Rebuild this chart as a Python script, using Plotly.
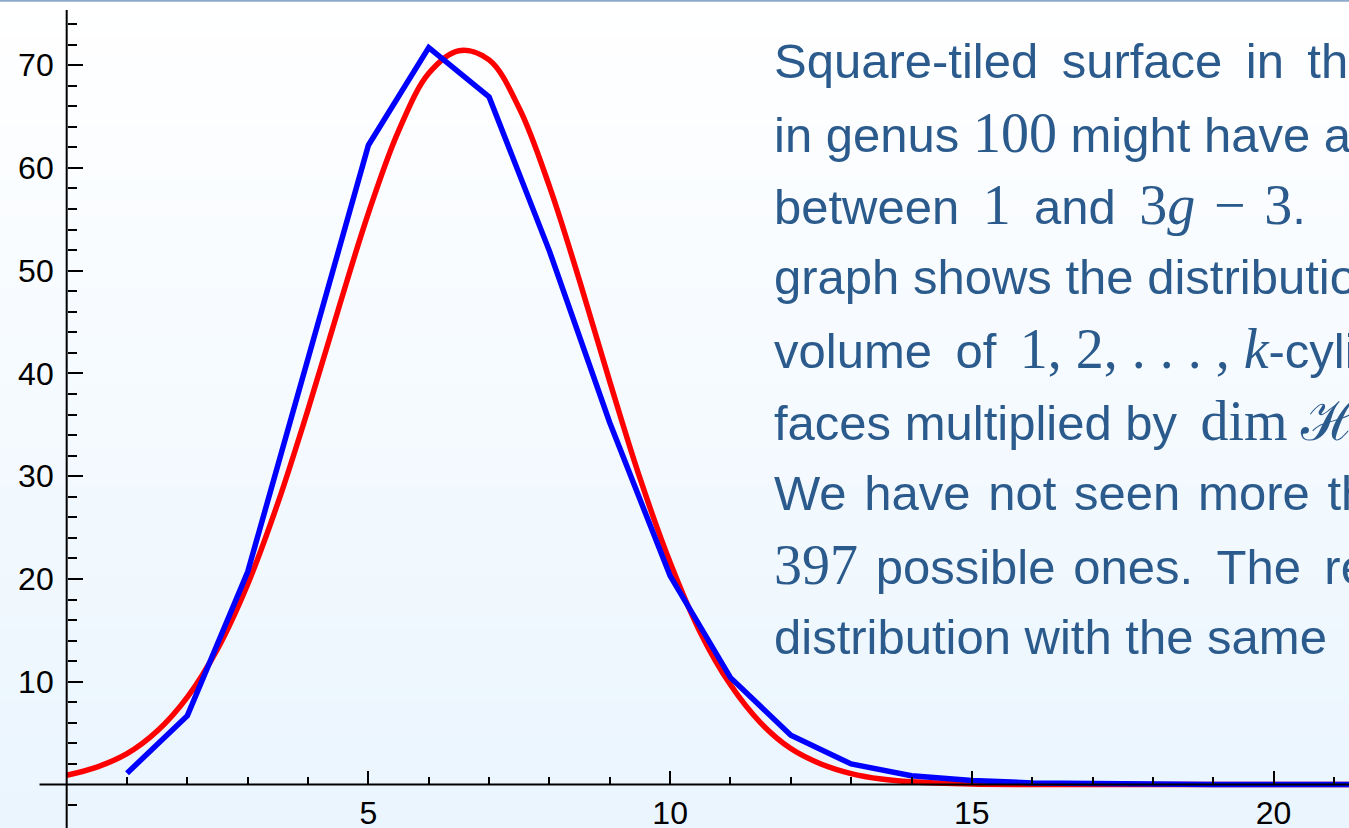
import plotly.graph_objects as go

# ---- data ----
k_values = list(range(1, 23))
volume_share = [1.1, 6.7, 20.7, 41.5, 62.2, 71.7, 66.9, 51.9, 35.2, 20.3, 10.4,
                4.8, 2.0, 0.85, 0.4, 0.15, 0.06, 0.02, 0.01, 0.0, 0.0, 0.0]

normal_x = [0, 0.5, 1, 1.5, 2, 2.5, 3, 3.5, 4, 4.5, 5, 5.5, 6, 6.5, 7, 7.5, 8, 8.5,
            9, 9.5, 10, 10.5, 11, 11.5, 12, 12.5, 13, 13.5, 14, 15, 16, 17, 18, 19, 20, 21, 22]
normal_y = [0.9, 1.7, 3.0, 5.2, 8.5, 13.2, 19.5, 27.4, 36.5, 46.2, 55.6, 63.6, 69.2, 71.4,
            70.5, 65.8, 58.2, 49.0, 39.2, 29.8, 21.6, 14.8, 9.7, 6.0, 3.5, 2.0, 1.06, 0.53,
            0.26, 0.05, 0.01, 0.0, 0.0, 0.0, 0.0, 0.0, 0.0]

x_major = [5, 10, 15, 20]
x_minor = [1, 2, 3, 4, 6, 7, 8, 9, 11, 12, 13, 14, 16, 17, 18, 19, 21]
y_major = [10, 20, 30, 40, 50, 60, 70]
y_minor = [-2, 2, 4, 6, 8, 12, 14, 16, 18, 22, 24, 26, 28, 32, 34, 36, 38, 42, 44, 46, 48,
           52, 54, 56, 58, 62, 64, 66, 68, 72, 74]

W, H = 1349, 828
X_RANGE = [-1.105, 21.25]
Y_RANGE = [-4.23, 76.33]

TXT = "#2b5a8c"
SERIF = "font-family:'Liberation Serif','DejaVu Serif',serif;font-size:56px"


def m(s, italic=False):
    if italic:
        return f"<span style=\"{SERIF}\"><i>{s}</i></span>"
    return f"<span style=\"{SERIF}\">{s}</span>"


sp = " \u2009"   # widened (justified) space
sp2 = " \u200a"

text_lines = [
    "Square-tiled" + sp + "surface" + sp + "in" + sp + "the" + sp + "principal",
    "in genus " + m("100") + " might have any",
    "between" + sp + m("1") + sp + "and" + sp + m("3") + m("g", True)
    + m(" \u200a\u2212 \u200a" + "3") + ".",
    "graph shows the distribution of",
    "volume" + sp + "of" + sp + m("1, 2, . . . , ") + m("k", True) + "-cylinder",
    "faces multiplied by" + sp + m("dim") + " " + m("\u210b"),
    "We" + sp2 + "have" + sp2 + "not" + sp2 + "seen" + sp2 + "more" + sp2 + "than",
    m("397") + sp2 + "possible" + sp2 + "ones." + sp + "The" + sp + "red",
    "distribution with the same",
]

fig = go.Figure()

fig.add_trace(go.Scatter(x=normal_x, y=normal_y, mode="lines",
                         line=dict(color="#ff0000", width=5.5, shape="spline", smoothing=1.0),
                         hoverinfo="skip", showlegend=False))
fig.add_trace(go.Scatter(x=k_values, y=volume_share, mode="lines",
                         line=dict(color="#0000ff", width=5.5),
                         hoverinfo="skip", showlegend=False))

shapes = []
# vertical gradient background
nb = 46
top = (255, 255, 255)
bot = (234, 245, 254)
for i in range(nb):
    t = (i + 0.5) / nb
    c = tuple(round(top[j] + (bot[j] - top[j]) * t) for j in range(3))
    shapes.append(dict(type="rect", xref="paper", yref="paper",
                       x0=0, x1=1, y0=1 - (i + 1) / nb, y1=1 - i / nb + 0.001,
                       fillcolor="rgb(%d,%d,%d)" % c, line=dict(width=0), layer="below"))
# top border line
shapes.append(dict(type="line", xref="paper", yref="paper", x0=0, x1=1, y0=0.999, y1=0.999,
                   line=dict(color="#8eaacb", width=2), layer="above"))
# axis lines (Mathematica-style crossing axes)
shapes.append(dict(type="line", xref="x", yref="y", x0=-0.45, x1=X_RANGE[1], y0=0, y1=0,
                   line=dict(color="black", width=2), layer="above"))
shapes.append(dict(type="line", xref="x", yref="y", x0=0, x1=0, y0=Y_RANGE[0], y1=75.36,
                   line=dict(color="black", width=2), layer="above"))

annotations = []
for i, t in enumerate(text_lines):
    base_px = 77 + 72 * i
    annotations.append(dict(xref="paper", yref="paper", x=772 / W, y=1 - (base_px - 16) / H,
                            xanchor="left", yanchor="middle", text=t, showarrow=False,
                            align="left",
                            font=dict(family="Liberation Sans, Arial, sans-serif", size=49, color=TXT)))

x_pos = (H - 784.5) / H
y_pos = 66.7 / W

fig.update_layout(
    width=W, height=H, margin=dict(l=0, r=0, t=0, b=0, pad=0), autosize=False,
    paper_bgcolor="white", plot_bgcolor="white",
    shapes=shapes, annotations=annotations, showlegend=False,
    xaxis=dict(range=X_RANGE, anchor="free", position=x_pos, showline=False, zeroline=False,
               automargin=False,
               showgrid=False, tickmode="array", tickvals=x_major, ticktext=[str(v) for v in x_major],
               ticks="inside", ticklen=14, tickwidth=2, tickcolor="black",
               ticklabelstandoff=6,
               tickfont=dict(family="Liberation Sans, Arial, sans-serif", size=32, color="black"),
               minor=dict(tickmode="array", tickvals=x_minor, ticks="inside", ticklen=8,
                          tickwidth=2, tickcolor="black", showgrid=False)),
    yaxis=dict(range=Y_RANGE, anchor="free", position=y_pos, showline=False, zeroline=False,
               automargin=False,
               showgrid=False, tickmode="array", tickvals=y_major, ticktext=[str(v) for v in y_major],
               ticks="inside", ticklen=15, tickwidth=2, tickcolor="black",
               ticklabelstandoff=13,
               tickfont=dict(family="Liberation Sans, Arial, sans-serif", size=32, color="black"),
               minor=dict(tickmode="array", tickvals=y_minor, ticks="inside", ticklen=9,
                          tickwidth=2, tickcolor="black", showgrid=False)),
)

fig.write_html("out.html", config={"displayModeBar": False},
               post_script="document.body.style.margin='0';document.body.style.padding='0';"
                           "document.body.style.overflow='hidden';")
